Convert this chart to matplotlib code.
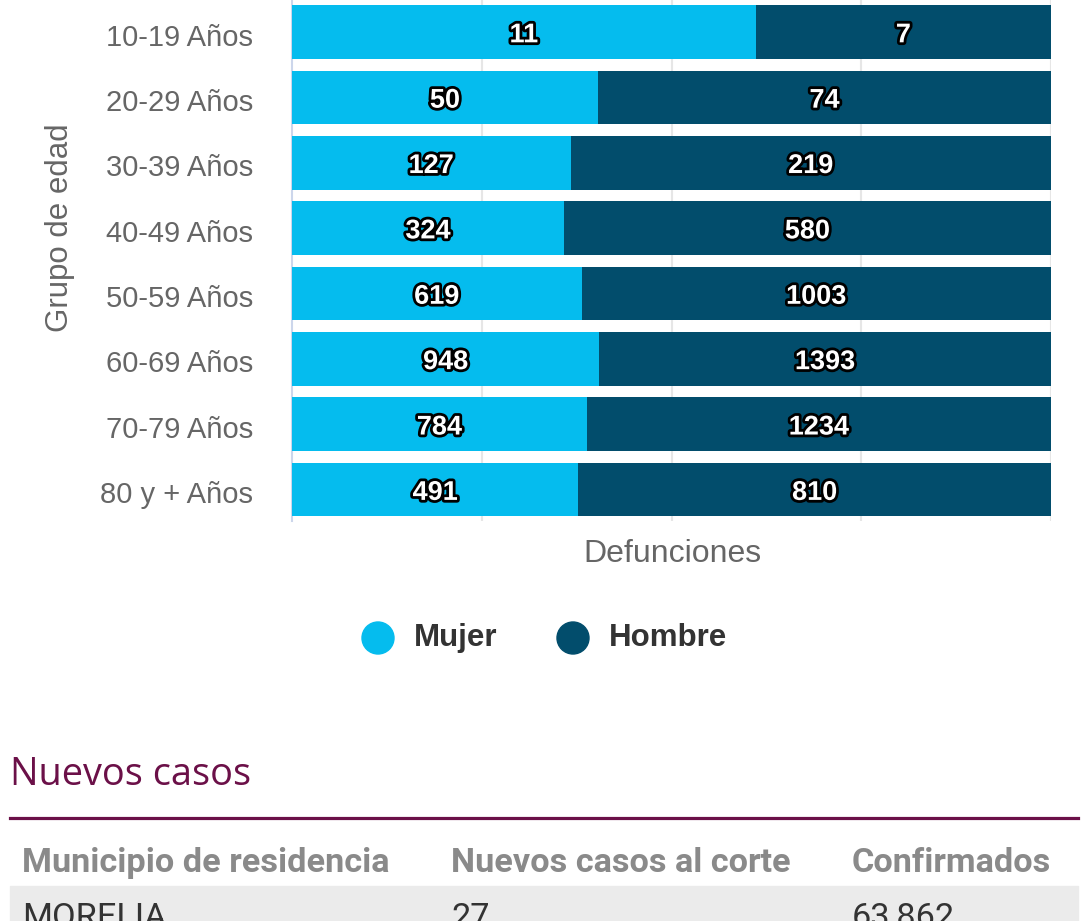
import matplotlib.pyplot as plt
import matplotlib.patheffects as pe
from matplotlib.patches import Ellipse, Rectangle
import numpy as np

grupos = ['10-19 Años', '20-29 Años', '30-39 Años', '40-49 Años',
          '50-59 Años', '60-69 Años', '70-79 Años', '80 y + Años']
mujer = np.array([11, 50, 127, 324, 619, 948, 784, 491])
hombre = np.array([7, 74, 219, 580, 1003, 1393, 1234, 810])

tabla_cols = ['Municipio de residencia', 'Nuevos casos al corte', 'Confirmados']
tabla_fila = ['MORELIA', '27', '63,862']

c_mujer = '#05bcee'
c_hombre = '#024d6c'
W, H = 1091, 921

fig = plt.figure(figsize=(W/100, H/100), dpi=100)
ax = fig.add_axes([292/W, 1-521/H, 759/W, 521/H])

total = mujer + hombre
pm = mujer / total
ph = hombre / total
y = np.arange(len(grupos))

ax.barh(y, pm, height=0.82, color=c_mujer, zorder=3)
ax.barh(y, ph, left=pm, height=0.82, color=c_hombre, zorder=3)

stroke = [pe.withStroke(linewidth=4, foreground='black')]
for i in range(len(grupos)):
    for xv, v in [(pm[i]/2, mujer[i]), (pm[i] + ph[i]/2, hombre[i])]:
        ax.text(xv, y[i] + 0.05, str(v), ha='center', va='center', color='white',
                fontsize=19.5, fontweight='bold', family='Liberation Sans',
                path_effects=stroke, zorder=5)

ax.set_xlim(0, 1)
ax.set_ylim(7.48, -0.49)
ax.set_yticks(y + 0.04)
ax.set_yticklabels(grupos, fontsize=21, color='#666666', family='Liberation Sans')
ax.tick_params(axis='y', length=0, pad=28)
ax.set_xticks([0.25, 0.5, 0.75, 1.0])
ax.tick_params(axis='x', length=0, labelbottom=False)
ax.grid(axis='x', color='#e6e6e6', linewidth=1.5, zorder=0)
for s in ['top', 'right', 'bottom']:
    ax.spines[s].set_visible(False)
ax.spines['left'].set_color('#ccd6eb')
ax.spines['left'].set_linewidth(1.5)

fig.text(672/W, 1-554/H, 'Defunciones', ha='center', va='center',
         fontsize=23, color='#666666', family='Liberation Sans')
fig.text(60/W, 1-228/H, 'Grupo de edad', ha='center', va='center', rotation=90,
         fontsize=22.5, color='#666666', family='Liberation Sans')

# leyenda
for xc, xt, col, lab in [(378, 414, c_mujer, 'Mujer'), (573, 609, c_hombre, 'Hombre')]:
    fig.patches.append(Ellipse((xc/W, 1-638/H), 32/W, 32/H, transform=fig.transFigure,
                               color=col, figure=fig))
    fig.text(xt/W, 1-638/H, lab, ha='left', va='center', fontsize=22.5,
             fontweight='bold', color='#333333', family='Liberation Sans')

# sección de tabla
fig.text(10/W, 1-775/H, 'Nuevos casos', ha='left', va='center', fontsize=27.3,
         color='#6b1048', family='Open Sans')
fig.add_artist(plt.Line2D([10/W, 1078/W], [1-818/H, 1-818/H],
                          color='#6b1048', linewidth=2.3))
xcols = [22, 451, 852]
for xc, t in zip(xcols, tabla_cols):
    fig.text(xc/W, 1-872/H, t, ha='left', va='baseline', fontsize=24.7,
             fontweight='bold', color='#8a8a8a', family='Roboto')
fig.patches.append(Rectangle((10/W, 0), 1068/W, 35/H, transform=fig.transFigure,
                             color='#ebebeb', figure=fig, zorder=0))
for xc, t in zip(xcols, tabla_fila):
    fig.text(xc/W, 1-927/H, t, ha='left', va='baseline', fontsize=24.7,
             color='#333333', family='Roboto')

fig.savefig('out.png', dpi=100)
